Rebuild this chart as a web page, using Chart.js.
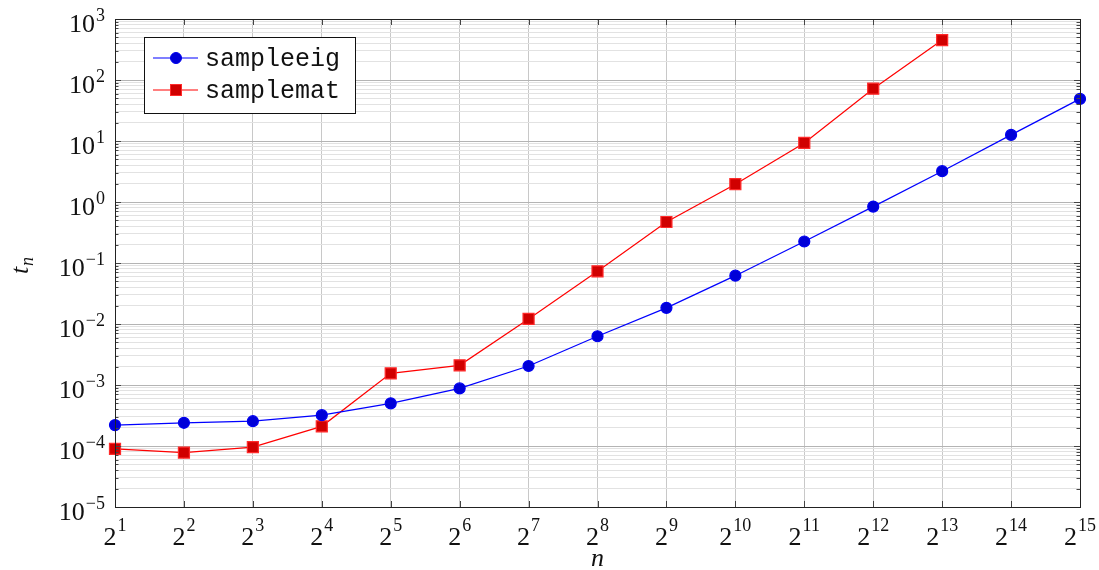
<!DOCTYPE html>
<html>
<head>
<meta charset="utf-8">
<script src="https://cdn.jsdelivr.net/npm/chart.js@4.4.1/dist/chart.umd.min.js"></script>
<style>
  html, body { margin: 0; padding: 0; background: #fff; }
  #wrap { width: 1099px; height: 570px; }
</style>
</head>
<body>
<div id="wrap"><canvas id="chart" width="1099" height="570"></canvas></div>
<script>
// values (n on a base-2 log axis, t_n on a log10 axis)
const nValues = [2, 4, 8, 16, 32, 64, 128, 256, 512, 1024, 2048, 4096, 8192, 16384, 32768];
const sampleeigTimes = [2.2e-4, 2.4e-4, 2.55e-4, 3.2e-4, 5.0e-4, 8.8e-4, 2.05e-3, 6.3e-3, 1.84e-2, 6.2e-2, 0.225, 0.84, 3.2, 12.6, 49];
const samplematTimes = [9.0e-5, 7.8e-5, 9.6e-5, 2.1e-4, 1.55e-3, 2.1e-3, 1.21e-2, 7.3e-2, 0.47, 1.96, 9.3, 72, 451];
const xTickExponents = [1, 2, 3, 4, 5, 6, 7, 8, 9, 10, 11, 12, 13, 14, 15];
const yTickExponents = [-5, -4, -3, -2, -1, 0, 1, 2, 3];
const seriesNames = ['sampleeig', 'samplemat'];

const SERIF = '"Liberation Serif", "DejaVu Serif", serif';
const MONO = '"Liberation Mono", "DejaVu Sans Mono", monospace';

function isDecade(v) {
  const l = Math.log10(v);
  return Math.abs(l - Math.round(l)) < 1e-9;
}

function drawPower(ctx, base, exp, x, baseY, supY, align) {
  ctx.font = '26px ' + SERIF;
  const wb = ctx.measureText(base).width;
  ctx.font = '18px ' + SERIF;
  const we = ctx.measureText(exp).width;
  const total = wb + we + 1;
  let start = align === 'right' ? x - total : x - total / 2;
  ctx.textAlign = 'left';
  ctx.textBaseline = 'alphabetic';
  ctx.font = '26px ' + SERIF;
  ctx.fillText(base, start, baseY);
  ctx.font = '18px ' + SERIF;
  ctx.fillText(exp, start + wb + 1, supY);
}

const decorations = {
  id: 'decorations',
  afterDatasetsDraw(chart) {
    const ctx = chart.ctx;
    const a = chart.chartArea;
    const xs = chart.scales.x, ys = chart.scales.y;
    ctx.save();

    // inward tick marks
    ctx.strokeStyle = '#444';
    ctx.lineWidth = 1;
    ctx.beginPath();
    ys.ticks.forEach(t => {
      const y = Math.round(ys.getPixelForValue(t.value)) + 0.5;
      const len = isDecade(t.value) ? 6 : 3.5;
      ctx.moveTo(a.left, y); ctx.lineTo(a.left + len, y);
      ctx.moveTo(a.right, y); ctx.lineTo(a.right - len, y);
    });
    xs.ticks.forEach(t => {
      const x = Math.round(xs.getPixelForValue(t.value)) + 0.5;
      ctx.moveTo(x, a.top); ctx.lineTo(x, a.top + 6);
      ctx.moveTo(x, a.bottom); ctx.lineTo(x, a.bottom - 6);
    });
    ctx.stroke();

    // frame
    ctx.strokeStyle = '#222';
    ctx.strokeRect(Math.round(a.left) + 0.5, Math.round(a.top) + 0.5,
      Math.round(a.right - a.left), Math.round(a.bottom - a.top));

    // tick labels
    ctx.fillStyle = '#111';
    yTickExponents.forEach(e => {
      const y = ys.getPixelForValue(Math.pow(10, e));
      drawPower(ctx, '10', String(e).replace('-', '\u2212'), a.left - 10, y + 13, y + 2, 'right');
    });
    xTickExponents.forEach(e => {
      const x = xs.getPixelForValue(Math.pow(2, e));
      drawPower(ctx, '2', String(e), x, a.bottom + 38, a.bottom + 24, 'center');
    });

    // axis titles
    ctx.font = 'italic 26px ' + SERIF;
    ctx.textAlign = 'center';
    ctx.fillText('n', (a.left + a.right) / 2, 566);
    ctx.save();
    ctx.translate(28, (a.top + a.bottom) / 2 + 2);
    ctx.rotate(-Math.PI / 2);
    ctx.textAlign = 'left';
    ctx.fillText('t', -9, 0);
    ctx.font = 'italic 18px ' + SERIF;
    ctx.fillText('n', -1, 5);
    ctx.restore();

    // legend box
    const lx = 144.5, ly = 37.5, lw = 211, lh = 76;
    ctx.fillStyle = '#fff';
    ctx.fillRect(lx, ly, lw, lh);
    ctx.strokeStyle = '#111';
    ctx.strokeRect(lx, ly, lw, lh);
    chart.data.datasets.forEach((ds, i) => {
      const ry = 58 + i * 32;
      ctx.strokeStyle = ds.borderColor;
      ctx.lineWidth = ds.borderWidth;
      ctx.beginPath();
      ctx.moveTo(153, ry); ctx.lineTo(198, ry);
      ctx.stroke();
      ctx.fillStyle = ds.pointBackgroundColor;
      ctx.strokeStyle = ds.pointBorderColor;
      ctx.lineWidth = 1;
      if (ds.pointStyle === 'rect') {
        ctx.fillRect(170.5, ry - 5.5, 11, 11);
        ctx.strokeRect(170.5, ry - 5.5, 11, 11);
      } else {
        ctx.beginPath();
        ctx.arc(176, ry, 5.5, 0, Math.PI * 2);
        ctx.fill(); ctx.stroke();
      }
      ctx.fillStyle = '#111';
      ctx.font = '25px ' + MONO;
      ctx.textAlign = 'left';
      ctx.textBaseline = 'middle';
      ctx.fillText(ds.label, 205, ry + 1);
    });
    ctx.restore();
  }
};

new Chart(document.getElementById('chart'), {
  type: 'line',
  data: {
    datasets: [
      {
        label: seriesNames[0],
        data: sampleeigTimes.map((v, i) => ({ x: nValues[i], y: v })),
        borderColor: '#0000ff',
        borderWidth: 1.2,
        pointStyle: 'circle',
        pointRadius: 5.5,
        pointBackgroundColor: '#0000d8',
        pointBorderColor: '#0000f0',
        clip: false,
      },
      {
        label: seriesNames[1],
        data: samplematTimes.map((v, i) => ({ x: nValues[i], y: v })),
        borderColor: '#ff0000',
        borderWidth: 1.2,
        pointStyle: 'rect',
        pointRadius: 7.8,
        pointBackgroundColor: '#d00000',
        pointBorderColor: '#ff2a2a',
        clip: false,
      },
    ],
  },
  options: {
    responsive: false,
    animation: false,
    layout: { padding: { left: 115, right: 19, top: 19, bottom: 63 } },
    plugins: { legend: { display: false }, tooltip: { enabled: false } },
    elements: { line: { tension: 0 } },
    scales: {
      x: {
        type: 'logarithmic',
        min: 2,
        max: 32768,
        afterBuildTicks: (scale) => { scale.ticks = nValues.map(v => ({ value: v })); },
        ticks: { display: false },
        grid: { color: '#c8c8c8', drawTicks: false, lineWidth: 1 },
        border: { display: false },
      },
      y: {
        type: 'logarithmic',
        min: 1e-5,
        max: 1e3,
        afterBuildTicks: (scale) => {
          const ticks = [];
          for (let e = -5; e < 3; e++) {
            for (let m = 1; m <= 9; m++) ticks.push({ value: m * Math.pow(10, e) });
          }
          ticks.push({ value: 1e3 });
          scale.ticks = ticks;
        },
        ticks: { display: false },
        grid: {
          color: (c) => isDecade(c.tick.value) ? '#b4b4b4' : '#e2e2e2',
          drawTicks: false,
          lineWidth: 1,
        },
        border: { display: false },
      },
    },
  },
  plugins: [decorations],
});
</script>
</body>
</html>
